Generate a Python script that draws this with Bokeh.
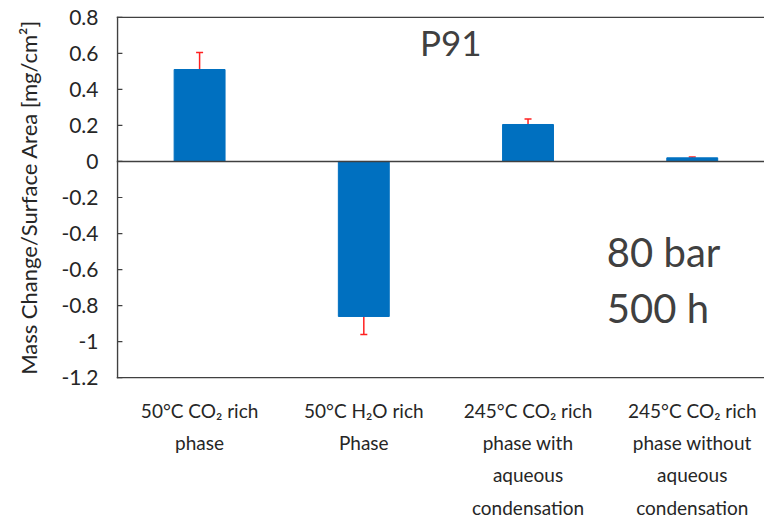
from bokeh.plotting import figure
from bokeh.models import (Range1d, FixedTicker, Span, Label,
                          Whisker, ColumnDataSource, TeeHead)
from bokeh.embed import file_html
from bokeh.resources import INLINE

categories = ["50°C CO₂ rich\nphase", "50°C H₂O rich\nPhase",
              "245°C CO₂ rich\nphase with\naqueous\ncondensation",
              "245°C CO₂ rich\nphase without\naqueous\ncondensation"]
values = [0.51, -0.86, 0.205, 0.02]
errors = [0.095, 0.10, 0.03, 0.005]
y_ticks = [-1.2, -1.0, -0.8, -0.6, -0.4, -0.2, 0.0, 0.2, 0.4, 0.6, 0.8]
y_tick_labels = ["-1.2", "-1", "-0.8", "-0.6", "-0.4", "-0.2", "0", "0.2", "0.4", "0.6", "0.8"]

FONT = "Lato"
GREY = "#404040"
TXT = "#262626"

xs = [i + 0.5 for i in range(len(categories))]
src = ColumnDataSource(dict(
    x=xs, top=values,
    upper=[v + e for v, e in zip(values, errors)],
    lower=[v - e for v, e in zip(values, errors)],
))

Y0, Y1 = y_ticks[0], y_ticks[-1]
p = figure(width=764, height=522, output_backend="svg", toolbar_location=None,
           x_range=Range1d(-0.006, 3.94), y_range=Range1d(Y0 - 0.004, Y1 + 0.004),
           min_border_left=116, min_border_right=0,
           min_border_top=16, min_border_bottom=144)
p.outline_line_color = None
p.grid.visible = False
p.background_fill_color = "white"
p.border_fill_color = "white"

p.vbar(x="x", top="top", bottom=0, width=0.31, source=src,
       fill_color="#0070C0", line_color="#0070C0")

# frame lines and zero line
for loc in (Y1, Y0):
    p.add_layout(Span(location=loc, dimension="width", line_color=GREY, line_width=1.5))
p.add_layout(Span(location=0, dimension="width", line_color=GREY, line_width=1.5))
p.add_layout(Span(location=0, dimension="height", line_color=GREY, line_width=1.5))

# inward y ticks
p.segment(x0=0, x1=0.03, y0=y_ticks, y1=y_ticks, line_color=GREY, line_width=1.2)

w = Whisker(base="x", upper="upper", lower="lower", source=src,
            line_color="#FF2020", line_width=1.5,
            upper_head=TeeHead(size=7, line_color="#FF2020", line_width=1.5),
            lower_head=TeeHead(size=7, line_color="#FF2020", line_width=1.5))
p.add_layout(w)

# y axis
ya = p.yaxis[0]
ya.ticker = FixedTicker(ticks=y_ticks)
ya.major_label_overrides = {t: l for t, l in zip(y_ticks, y_tick_labels)}
ya.major_tick_in = 0
ya.major_tick_out = 0
ya.minor_tick_line_color = None
ya.axis_line_color = None
ya.major_label_text_font = FONT
ya.major_label_text_font_size = "21px"
ya.major_label_text_color = TXT
ya.major_label_standoff = 18
ya.axis_label = "Mass Change/Surface Area [mg/cm²]"
ya.axis_label_text_font = FONT
ya.axis_label_text_font_size = "22px"
ya.axis_label_text_font_style = "normal"
ya.axis_label_text_color = TXT
ya.axis_label_standoff = 16

# x axis: category labels only
xa = p.xaxis[0]
xa.ticker = FixedTicker(ticks=xs)
xa.major_label_overrides = {x: c for x, c in zip(xs, categories)}
xa.major_tick_in = 0
xa.major_tick_out = 0
xa.minor_tick_line_color = None
xa.axis_line_color = None
xa.major_label_text_font = FONT
xa.major_label_text_font_size = "19px"
xa.major_label_text_color = TXT
xa.major_label_standoff = 20
xa.major_label_text_line_height = 1.41

p.add_layout(Label(x=2.03, y=0.663, text="P91", text_font=FONT, text_font_size="35px",
                   text_color=GREY, text_align="center", text_baseline="middle"))
p.add_layout(Label(x=2.98, y=-0.50, text="80 bar", text_font=FONT, text_font_size="40px",
                   text_color=GREY, text_align="left", text_baseline="middle"))
p.add_layout(Label(x=2.98, y=-0.815, text="500 h", text_font=FONT, text_font_size="40px",
                   text_color=GREY, text_align="left", text_baseline="middle"))

open("out.html", "w").write(file_html(p, INLINE))
